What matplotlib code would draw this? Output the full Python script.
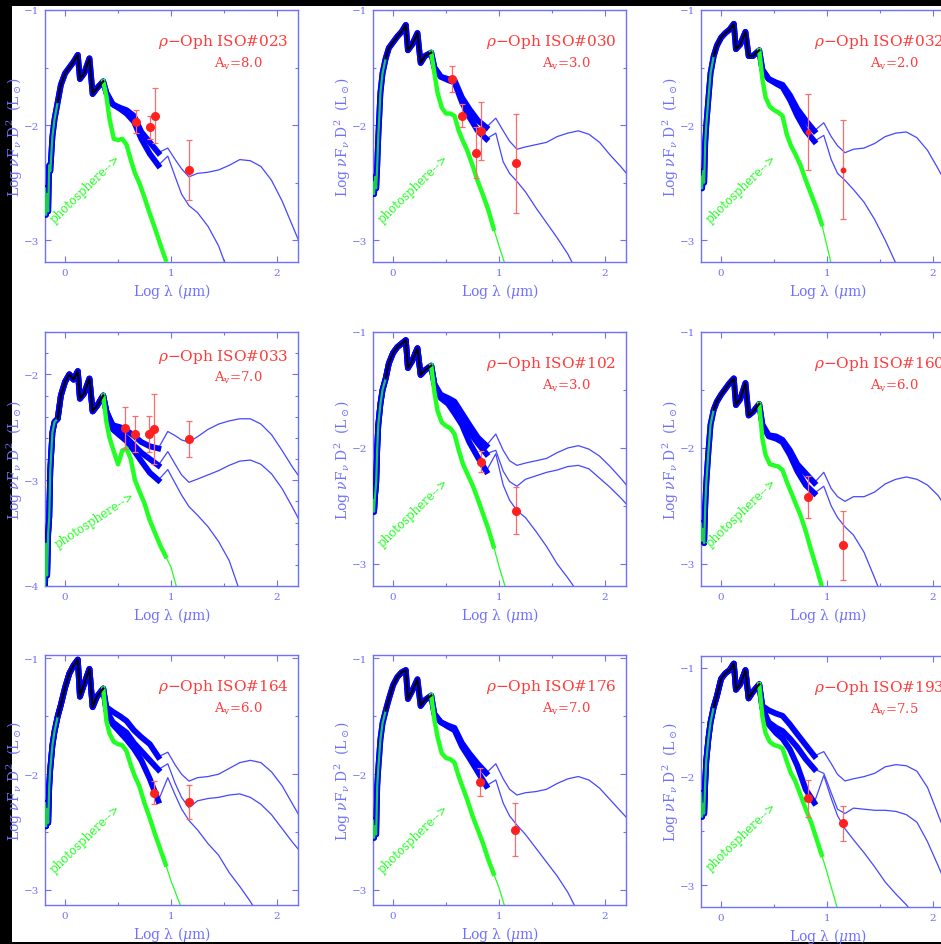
import matplotlib
matplotlib.use("Agg")
import matplotlib.pyplot as plt
from matplotlib.patches import Rectangle
from matplotlib.ticker import MultipleLocator
import numpy as np

plt.rcParams["font.family"] = ["DejaVu Serif"]
plt.rcParams["mathtext.fontset"] = "dejavuserif"

W, H = 941, 945
AXIS_BLUE = "#7070ff"
MODEL_BLUE = "#0000ff"
THIN_BLUE = "#4646ff"
PHOT_GREEN = "#22ff22"
RED = "#ff2020"
ERR_RED = "#ff6a6a"
TITLE_RED = "#ff3b3b"

# shared wavelength grids (log lambda, micron)
STAR_X = [-0.19, -0.18, -0.17, -0.16, -0.15, -0.14, -0.12, -0.10, -0.07, -0.04,
          0.0, 0.04, 0.08, 0.12, 0.14, 0.18, 0.23, 0.26, 0.30, 0.36]
MOD_X = [0.39, 0.45, 0.52, 0.58, 0.65, 0.72, 0.80, 0.88, 0.97, 1.04, 1.10, 1.17,
         1.25, 1.35, 1.45, 1.55, 1.65, 1.75, 1.85, 1.95, 2.05, 2.15, 2.25]
PHOT_X = [0.39, 0.42, 0.46, 0.50, 0.54, 0.58, 0.62, 0.66, 0.70, 0.75, 0.80, 0.85,
          0.90, 0.95, 1.00, 1.05, 1.10, 1.15]

# ---- ISO#023
STAR_023 = [-2.55, -2.78, -2.6, -2.75, -2.35, -2.4, -2.1, -1.95, -1.8, -1.65,
            -1.55, -1.5, -1.45, -1.39, -1.6, -1.55, -1.42, -1.73, -1.68, -1.62]
PHOT_023 = [-1.75, -1.95, -2.12, -2.13, -2.12, -2.17, -2.3, -2.42, -2.5, -2.63, -2.77, -2.9,
            -3.04, -3.17, -3.3, -3.43, -3.56, -3.69]
MOD_A_023 = [-1.72, -1.82, -1.85, -1.87, -1.92, -2.06, -2.15, -2.24, -2.2, -2.3, -2.38, -2.45,
             -2.42, -2.41, -2.39, -2.35, -2.3, -2.31, -2.36, -2.48, -2.66, -2.88, -3.1]
MOD_B_023 = [-1.72, -1.82, -1.86, -1.9, -1.97, -2.12, -2.25, -2.35, -2.27, -2.45, -2.6, -2.7,
             -2.76, -2.88, -3.05, -3.3, -3.5, -3.7, -3.9, -4.1, -4.3, -4.5, -4.7]
RED_X_023 = [0.67, 0.80, 0.85, 1.17]
RED_Y_023 = [-1.97, -2.02, -1.92, -2.39]
RED_E_023 = [0.10, 0.10, 0.24, 0.26]

# ---- ISO#030
STAR_030 = [-2.5, -2.6, -2.45, -2.55, -2.35, -2.1, -1.72, -1.55, -1.42, -1.33,
            -1.28, -1.23, -1.19, -1.13, -1.35, -1.3, -1.2, -1.46, -1.4, -1.37]
PHOT_030 = [-1.55, -1.72, -1.85, -1.9, -1.9, -1.92, -2.05, -2.14, -2.22, -2.35, -2.49, -2.61,
            -2.74, -2.9, -3.05, -3.19, -3.33, -3.47]
MOD_A_030 = [-1.5, -1.58, -1.6, -1.61, -1.76, -1.86, -1.96, -2.02, -1.94, -2.05, -2.14, -2.21,
             -2.19, -2.17, -2.15, -2.1, -2.07, -2.05, -2.08, -2.15, -2.26, -2.36, -2.47]
MOD_B_030 = [-1.5, -1.58, -1.61, -1.63, -1.8, -1.93, -2.05, -2.12, -2.07, -2.32, -2.42, -2.49,
             -2.58, -2.72, -2.85, -2.98, -3.12, -3.3, -3.5, -3.7, -3.9, -4.1, -4.3]
RED_X_030 = [0.56, 0.65, 0.78, 0.83, 1.16]
RED_Y_030 = [-1.6, -1.92, -2.24, -2.05, -2.33]
RED_E_030 = [0.11, 0.10, 0.22, 0.25, 0.43]

# ---- ISO#032
STAR_032 = [-2.45, -2.55, -2.4, -2.5, -2.15, -2.0, -1.77, -1.55, -1.4, -1.31,
            -1.24, -1.2, -1.17, -1.12, -1.34, -1.3, -1.19, -1.4, -1.4, -1.35]
PHOT_032 = [-1.6, -1.76, -1.84, -1.87, -1.89, -1.92, -2.08, -2.18, -2.25, -2.35, -2.48, -2.6,
            -2.72, -2.86, -3.05, -3.25, -3.45, -3.6]
MOD_A_032 = [-1.52, -1.6, -1.63, -1.65, -1.74, -1.86, -1.96, -2.05, -1.98, -2.1, -2.18, -2.24,
             -2.21, -2.2, -2.16, -2.1, -2.07, -2.06, -2.11, -2.22, -2.38, -2.55, -2.72]
MOD_B_032 = [-1.52, -1.6, -1.64, -1.67, -1.78, -1.92, -2.05, -2.14, -2.09, -2.3, -2.42, -2.48,
             -2.56, -2.67, -2.82, -3.0, -3.2, -3.4, -3.6, -3.8, -4.0, -4.2, -4.4]
RED_X_032 = [0.82, 1.15]
RED_Y_032 = [-2.06, -2.39]
RED_E_032 = [0.33, 0.43]

# ---- ISO#033
STAR_033 = [-4.0, -3.6, -3.9, -3.5, -3.35, -2.9, -2.55, -2.45, -2.42, -2.2,
            -2.07, -2.0, -2.05, -1.97, -2.23, -2.18, -2.04, -2.35, -2.3, -2.2]
PHOT_033 = [-2.45, -2.6, -2.73, -2.85, -2.72, -2.7, -2.8, -3.0, -3.1, -3.22, -3.38, -3.5,
            -3.62, -3.72, -3.82, -4.0, -4.15, -4.3]
MOD_A_033 = [-2.35, -2.48, -2.5, -2.53, -2.58, -2.64, -2.68, -2.7, -2.54, -2.58, -2.62, -2.64,
             -2.59, -2.52, -2.47, -2.44, -2.42, -2.42, -2.47, -2.57, -2.72, -2.88, -3.02]
MOD_B_033 = [-2.35, -2.5, -2.55, -2.6, -2.67, -2.74, -2.8, -2.86, -2.73, -2.85, -2.95, -3.02,
             -2.99, -2.95, -2.91, -2.86, -2.82, -2.81, -2.85, -2.94, -3.08, -3.26, -3.45]
MOD_C_033 = [-2.35, -2.52, -2.58, -2.63, -2.72, -2.82, -2.93, -3.0, -2.9, -3.03, -3.14, -3.25,
             -3.33, -3.44, -3.58, -3.76, -4.05, -4.3, -4.5, -4.7, -4.9, -5.1, -5.3]
RED_X_033 = [0.57, 0.66, 0.79, 0.84, 1.17]
RED_Y_033 = [-2.51, -2.56, -2.56, -2.52, -2.61]
RED_E_033 = [0.20, 0.17, 0.17, 0.33, 0.17]

# ---- ISO#102
STAR_102 = [-2.45, -2.55, -2.4, -2.3, -2.0, -1.8, -1.62, -1.5, -1.4, -1.27,
            -1.18, -1.13, -1.1, -1.07, -1.31, -1.25, -1.14, -1.37, -1.33, -1.29]
PHOT_102 = [-1.52, -1.68, -1.78, -1.81, -1.83, -1.88, -2.02, -2.14, -2.22, -2.32, -2.44, -2.57,
            -2.7, -2.85, -3.02, -3.17, -3.32, -3.47]
MOD_A_102 = [-1.45, -1.54, -1.57, -1.6, -1.7, -1.8, -1.91, -1.98, -1.88, -2.02, -2.11, -2.15,
             -2.13, -2.11, -2.09, -2.04, -2.0, -1.98, -2.01, -2.07, -2.16, -2.26, -2.37]
MOD_B_102 = [-1.45, -1.56, -1.6, -1.66, -1.75, -1.86, -1.96, -2.05, -2.02, -2.2, -2.29, -2.33,
             -2.27, -2.24, -2.21, -2.19, -2.16, -2.15, -2.18, -2.26, -2.34, -2.43, -2.53]
MOD_C_102 = [-1.45, -1.57, -1.62, -1.7, -1.8, -1.95, -2.08, -2.2, -2.05, -2.32, -2.45, -2.54,
             -2.6, -2.72, -2.85, -3.0, -3.12, -3.25, -3.45, -3.65, -3.85, -4.05, -4.25]
RED_X_102 = [0.83, 1.16]
RED_Y_102 = [-2.12, -2.54]
RED_E_102 = [0.09, 0.20]

# ---- ISO#160
STAR_160 = [-2.65, -2.8, -2.7, -2.82, -2.5, -2.3, -2.03, -1.8, -1.67, -1.6,
            -1.54, -1.49, -1.44, -1.4, -1.63, -1.58, -1.44, -1.72, -1.69, -1.62]
PHOT_160 = [-1.92, -2.06, -2.14, -2.15, -2.16, -2.19, -2.29, -2.38, -2.47, -2.58, -2.72, -2.88,
            -3.03, -3.19, -3.35, -3.5, -3.65, -3.8]
MOD_A_160 = [-1.8, -1.89, -1.9, -1.93, -2.02, -2.14, -2.22, -2.3, -2.21, -2.35, -2.42, -2.46,
             -2.42, -2.42, -2.38, -2.31, -2.27, -2.25, -2.27, -2.32, -2.41, -2.55, -2.7]
MOD_B_160 = [-1.8, -1.9, -1.92, -1.95, -2.06, -2.2, -2.32, -2.39, -2.33, -2.5, -2.6, -2.68,
             -2.75, -2.9, -3.12, -3.35, -3.6, -3.85, -4.1, -4.35, -4.6, -4.85, -5.1]
RED_X_160 = [0.82, 1.15]
RED_Y_160 = [-2.42, -2.84]
RED_E_160 = [0.18, 0.30]

# ---- ISO#164
STAR_164 = [-2.25, -2.45, -2.3, -2.42, -2.1, -1.95, -1.75, -1.63, -1.5, -1.4,
            -1.25, -1.13, -1.06, -1.01, -1.33, -1.22, -1.09, -1.42, -1.33, -1.26]
PHOT_164 = [-1.54, -1.65, -1.72, -1.74, -1.75, -1.8, -1.92, -2.02, -2.1, -2.25, -2.38, -2.52,
            -2.65, -2.78, -2.92, -3.04, -3.16, -3.28]
MOD_A_164 = [-1.42, -1.46, -1.5, -1.54, -1.62, -1.68, -1.74, -1.85, -1.81, -1.92, -2.0, -2.06,
             -2.03, -2.02, -2.0, -1.95, -1.9, -1.88, -1.9, -1.98, -2.1, -2.26, -2.42]
MOD_B_164 = [-1.45, -1.55, -1.6, -1.64, -1.73, -1.8, -1.88, -1.96, -1.91, -2.08, -2.2, -2.29,
             -2.23, -2.21, -2.2, -2.18, -2.17, -2.2, -2.26, -2.35, -2.47, -2.59, -2.7]
MOD_C_164 = [-1.45, -1.57, -1.64, -1.7, -1.78, -1.88, -2.04, -2.23, -2.03, -2.18, -2.3, -2.4,
             -2.48, -2.6, -2.7, -2.85, -2.97, -3.1, -3.25, -3.4, -3.55, -3.7, -3.85]
RED_X_164 = [0.84, 1.17]
RED_Y_164 = [-2.16, -2.24]
RED_E_164 = [0.10, 0.15]

# ---- ISO#176
STAR_176 = [-2.4, -2.55, -2.45, -2.52, -2.1, -1.95, -1.7, -1.56, -1.45, -1.35,
            -1.23, -1.16, -1.12, -1.1, -1.35, -1.28, -1.18, -1.41, -1.36, -1.32]
PHOT_176 = [-1.53, -1.68, -1.82, -1.86, -1.87, -1.9, -2.02, -2.12, -2.22, -2.36, -2.48, -2.6,
            -2.74, -2.86, -2.98, -3.13, -3.28, -3.43]
MOD_A_176 = [-1.48, -1.55, -1.58, -1.6, -1.73, -1.82, -1.91, -1.99, -1.91, -2.04, -2.13, -2.18,
             -2.16, -2.15, -2.13, -2.08, -2.04, -2.02, -2.05, -2.12, -2.22, -2.32, -2.42]
MOD_B_176 = [-1.48, -1.55, -1.59, -1.62, -1.76, -1.86, -1.98, -2.1, -2.05, -2.25, -2.36, -2.44,
             -2.52, -2.64, -2.76, -2.88, -3.02, -3.2, -3.4, -3.6, -3.8, -4.0, -4.2]
RED_X_176 = [0.82, 1.15]
RED_Y_176 = [-2.07, -2.48]
RED_E_176 = [0.12, 0.23]

# ---- ISO#193
STAR_193 = [-2.15, -2.37, -2.25, -2.34, -2.05, -1.85, -1.65, -1.5, -1.36, -1.26,
            -1.1, -1.05, -1.02, -0.96, -1.2, -1.15, -1.02, -1.28, -1.22, -1.15]
PHOT_193 = [-1.45, -1.6, -1.68, -1.71, -1.72, -1.74, -1.86, -1.97, -2.04, -2.17, -2.3, -2.42,
            -2.57, -2.72, -2.88, -3.05, -3.22, -3.38]
MOD_A_193 = [-1.35, -1.39, -1.42, -1.44, -1.52, -1.61, -1.71, -1.81, -1.77, -1.88, -1.98, -2.04,
             -2.02, -2.0, -1.97, -1.91, -1.89, -1.9, -1.95, -2.1, -2.35, -2.6, -2.85]
MOD_B_193 = [-1.37, -1.5, -1.55, -1.58, -1.65, -1.73, -1.84, -1.93, -1.97, -2.15, -2.3, -2.34,
             -2.29, -2.3, -2.31, -2.31, -2.32, -2.35, -2.42, -2.6, -2.82, -3.05, -3.3]
MOD_C_193 = [-1.37, -1.52, -1.6, -1.65, -1.75, -1.9, -2.12, -2.24, -1.99, -2.2, -2.36, -2.48,
             -2.58, -2.7, -2.83, -2.97, -3.08, -3.18, -3.3, -3.45, -3.6, -3.75, -3.9]
RED_X_193 = [0.82, 1.15]
RED_Y_193 = [-2.2, -2.43]
RED_E_193 = [0.17, 0.16]

NAMES = ["023", "030", "032", "033", "102", "160", "164", "176", "193"]
AV = ["8.0", "3.0", "2.0", "7.0", "3.0", "6.0", "6.0", "7.0", "7.5"]
YLIMS = [(-3.19, -1.0), (-3.19, -1.0), (-3.19, -1.0), (-4.0, -1.6), (-3.19, -1.0),
         (-3.19, -1.0), (-3.13, -0.97), (-3.13, -0.97), (-3.2, -0.89)]

PANELS = [
    (STAR_023, PHOT_023, [MOD_A_023, MOD_B_023], RED_X_023, RED_Y_023, RED_E_023),
    (STAR_030, PHOT_030, [MOD_A_030, MOD_B_030], RED_X_030, RED_Y_030, RED_E_030),
    (STAR_032, PHOT_032, [MOD_A_032, MOD_B_032], RED_X_032, RED_Y_032, RED_E_032),
    (STAR_033, PHOT_033, [MOD_A_033, MOD_B_033, MOD_C_033], RED_X_033, RED_Y_033, RED_E_033),
    (STAR_102, PHOT_102, [MOD_A_102, MOD_B_102, MOD_C_102], RED_X_102, RED_Y_102, RED_E_102),
    (STAR_160, PHOT_160, [MOD_A_160, MOD_B_160], RED_X_160, RED_Y_160, RED_E_160),
    (STAR_164, PHOT_164, [MOD_A_164, MOD_B_164, MOD_C_164], RED_X_164, RED_Y_164, RED_E_164),
    (STAR_176, PHOT_176, [MOD_A_176, MOD_B_176], RED_X_176, RED_Y_176, RED_E_176),
    (STAR_193, PHOT_193, [MOD_A_193, MOD_B_193, MOD_C_193], RED_X_193, RED_Y_193, RED_E_193),
]

# axes boxes in pixels
COL_LEFT = [45, 373, 701]
ROW_TOP = [11, 333, 656]
ROW_BOTTOM = [263, 587, 906]

fig = plt.figure(figsize=(W / 100, H / 100), dpi=100, facecolor="black")
fig.add_artist(Rectangle((12 / W, 2 / H), 1 - 12 / W, (938 - 2) / H,
                         transform=fig.transFigure, facecolor="white",
                         edgecolor="none", zorder=0))


def draw_panel(ax, k):
    star, phot, models, rx, ry, re = PANELS[k]
    sx = np.array(STAR_X)
    sy = np.array(star)
    mx = np.array(MOD_X)
    px = np.array(PHOT_X)
    py = np.array(phot)

    # models: thick noisy band up to ~8 micron, thin afterwards
    for m in models:
        x = np.concatenate([sx, mx])
        y = np.concatenate([sy, m])
        ax.plot(x[x >= 0.88], y[x >= 0.88], color=THIN_BLUE, lw=0.9, zorder=2)
        ax.plot(x[x <= 0.88], y[x <= 0.88], color=MODEL_BLUE, lw=4.2, zorder=3)

    # photosphere
    ax.plot(px[px >= 0.95], py[px >= 0.95], color=PHOT_GREEN, lw=0.9, zorder=2)
    ax.plot(np.r_[sx[-1], px[px <= 0.95]], np.r_[sy[-1], py[px <= 0.95]],
            color=PHOT_GREEN, lw=3.2, zorder=4)
    ax.plot(sx[:9], sy[:9], color=PHOT_GREEN, lw=1.6, zorder=4, alpha=0.8)

    # observed spectrum
    obs = sx >= -0.07
    ax.plot(sx[obs], sy[obs], color="black", lw=1.6, zorder=5)

    ms = 3.2 if NAMES[k] == "032" else 5.5
    ax.errorbar(rx, ry, yerr=re, fmt="none", ecolor=ERR_RED, elinewidth=0.9,
                capsize=2.2, capthick=0.9, zorder=6)
    ax.plot(rx, ry, "o", color=RED, ms=ms, mec=RED, zorder=7)

    ax.set_xlim(-0.19, 2.2)
    ax.set_ylim(*YLIMS[k])
    ax.xaxis.set_major_locator(MultipleLocator(1))
    ax.xaxis.set_minor_locator(MultipleLocator(0.5))
    ax.yaxis.set_major_locator(MultipleLocator(1))
    ax.yaxis.set_minor_locator(MultipleLocator(0.2 if NAMES[k] == "033" else 0.5))
    ax.tick_params(which="both", direction="in", top=True, right=True,
                   color=AXIS_BLUE, labelcolor=AXIS_BLUE, width=0.8, labelsize=7.5)
    ax.tick_params(which="major", length=4.5, pad=4)
    ax.tick_params(which="minor", length=2.5)
    for s in ax.spines.values():
        s.set_color(AXIS_BLUE)
        s.set_linewidth(1.0)

    ax.set_xlabel(r"Log λ ($\mu$m)", color=AXIS_BLUE, fontsize=10)
    ax.set_ylabel(r"Log $\nu$F$_\nu$ D$^2$  (L$_\odot$)", color=AXIS_BLUE, fontsize=10)
    ax.xaxis.set_label_coords(0.5, -0.075)
    ax.yaxis.set_label_coords(-0.078, 0.5)

    ty = 0.905 if NAMES[k] == "033" else 0.877
    ay = 0.823 if NAMES[k] == "033" else 0.79
    ax.text(0.447, ty, r"$\rho$−Oph ISO#" + NAMES[k], transform=ax.transAxes,
            color=TITLE_RED, fontsize=11, ha="left", va="center")
    ax.text(0.668, ay, r"A$_{\rm v}$=" + AV[k], transform=ax.transAxes,
            color=TITLE_RED, fontsize=9.5, ha="left", va="center")

    if NAMES[k] == "033":
        ax.text(0.28, -3.37, "photosphere-->", color=PHOT_GREEN, fontsize=8.5,
                rotation=33, ha="center", va="center", rotation_mode="anchor")
    else:
        ax.text(0.19, -2.55, "photosphere-->", color=PHOT_GREEN, fontsize=8.5,
                rotation=44, ha="center", va="center", rotation_mode="anchor")


for k in range(9):
    r, c = divmod(k, 3)
    left, top = COL_LEFT[c], ROW_TOP[r]
    bottom = ROW_BOTTOM[r]
    if k == 8:
        top, bottom = 657, 908
    ax = fig.add_axes([left / W, 1 - bottom / H, 253 / W, (bottom - top) / H])
    draw_panel(ax, k)

fig.savefig("out.png", dpi=100)
